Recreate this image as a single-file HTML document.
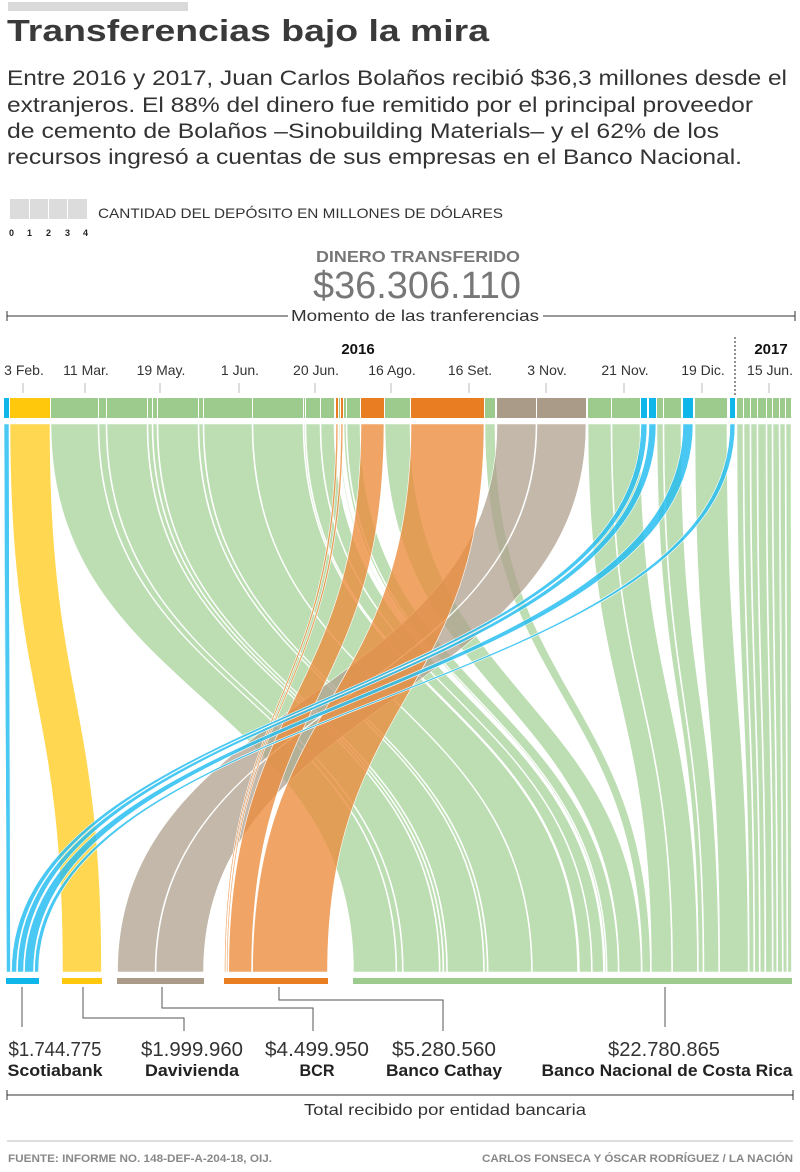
<!DOCTYPE html>
<html><head><meta charset="utf-8">
<style>
html,body{margin:0;padding:0;background:#fff;}
svg{display:block;font-family:"Liberation Sans",sans-serif;}
</style></head>
<body>
<svg id="s" width="800" height="1172" viewBox="0 0 800 1172" xmlns="http://www.w3.org/2000/svg">
<rect x="8" y="2" width="180" height="9" fill="#d9d9d9"/>
<text x="7" y="41" font-size="31" font-weight="bold" fill="#3a3a3a" textLength="482" lengthAdjust="spacingAndGlyphs">Transferencias bajo la mira</text>
<g font-size="21" fill="#333">
<text x="7" y="85" textLength="780" lengthAdjust="spacingAndGlyphs">Entre 2016 y 2017,  Juan Carlos Bolaños recibió $36,3 millones desde el</text>
<text x="7" y="112" textLength="746" lengthAdjust="spacingAndGlyphs">extranjeros. El 88% del dinero fue remitido por el principal proveedor</text>
<text x="7" y="138" textLength="712" lengthAdjust="spacingAndGlyphs">de cemento de Bolaños –Sinobuilding Materials– y el 62% de los</text>
<text x="7" y="164" textLength="735" lengthAdjust="spacingAndGlyphs">recursos ingresó a cuentas de sus empresas en el Banco Nacional.</text>
</g>
<g fill="#dcdcdc"><rect x="10" y="199" width="19" height="20"/><rect x="30" y="199" width="18" height="20"/><rect x="49" y="199" width="18" height="20"/><rect x="68" y="199" width="19" height="20"/></g>
<g font-size="9" font-weight="bold" fill="#222"><text x="9" y="236">0</text><text x="27" y="236">1</text><text x="46" y="236">2</text><text x="65" y="236">3</text><text x="83" y="236">4</text></g>
<text x="98" y="218" font-size="14" fill="#333" textLength="405" lengthAdjust="spacingAndGlyphs">CANTIDAD DEL DEPÓSITO EN MILLONES DE DÓLARES</text>
<text x="418" y="262" font-size="16" font-weight="bold" fill="#777" text-anchor="middle" textLength="204" lengthAdjust="spacingAndGlyphs">DINERO TRANSFERIDO</text>
<text x="417" y="298" font-size="38" fill="#777" text-anchor="middle" textLength="208" lengthAdjust="spacingAndGlyphs">$36.306.110</text>
<g stroke="#333" stroke-width="1"><line x1="7" y1="316" x2="288" y2="316"/><line x1="543" y1="316" x2="795" y2="316"/><line x1="7" y1="311" x2="7" y2="321"/><line x1="795" y1="311" x2="795" y2="321"/></g>
<text x="415" y="321" font-size="16" fill="#333" text-anchor="middle" textLength="248" lengthAdjust="spacingAndGlyphs">Momento de las tranferencias</text>
<text x="358" y="354" font-size="15" font-weight="bold" fill="#111" text-anchor="middle">2016</text>
<text x="771" y="354" font-size="15" font-weight="bold" fill="#111" text-anchor="middle">2017</text>
<line x1="735" y1="337" x2="735" y2="396" stroke="#222" stroke-dasharray="2,2"/>
<g id="dates" font-size="14" fill="#333" text-anchor="middle"></g>
<g id="flows"></g>
<g id="bars"></g>
<g stroke="#555" stroke-width="1" fill="none">
<path d="M22 987 V1027"/><path d="M83 987 V1018 H184 V1031"/><path d="M162 987 V1008 H313 V1031"/><path d="M279 987 V1000 H443 V1031"/><path d="M665 987 V1027"/>
</g>
<g font-size="20" fill="#333" text-anchor="middle">
<text x="55" y="1056" textLength="93" lengthAdjust="spacingAndGlyphs">$1.744.775</text>
<text x="192" y="1056" textLength="102" lengthAdjust="spacingAndGlyphs">$1.999.960</text>
<text x="317" y="1056" textLength="104" lengthAdjust="spacingAndGlyphs">$4.499.950</text>
<text x="444" y="1056" textLength="104" lengthAdjust="spacingAndGlyphs">$5.280.560</text>
<text x="664" y="1056" textLength="112" lengthAdjust="spacingAndGlyphs">$22.780.865</text>
</g>
<g font-size="17" font-weight="bold" fill="#222" text-anchor="middle">
<text x="55" y="1076" textLength="95" lengthAdjust="spacingAndGlyphs">Scotiabank</text>
<text x="192" y="1076" textLength="94" lengthAdjust="spacingAndGlyphs">Davivienda</text>
<text x="317" y="1076" textLength="35" lengthAdjust="spacingAndGlyphs">BCR</text>
<text x="444" y="1076" textLength="116" lengthAdjust="spacingAndGlyphs">Banco Cathay</text>
<text x="667" y="1076" textLength="251" lengthAdjust="spacingAndGlyphs">Banco Nacional de Costa Rica</text>
</g>
<g stroke="#333"><line x1="7" y1="1095" x2="793" y2="1095"/><line x1="7" y1="1090" x2="7" y2="1100"/><line x1="793" y1="1090" x2="793" y2="1100"/></g>
<text x="445" y="1115" font-size="16" fill="#333" text-anchor="middle" textLength="282" lengthAdjust="spacingAndGlyphs">Total recibido por entidad bancaria</text>
<line x1="7" y1="1141" x2="793" y2="1141" stroke="#ddd" stroke-width="2"/>
<text x="8" y="1162" font-size="11" font-weight="bold" fill="#888" textLength="264" lengthAdjust="spacingAndGlyphs">FUENTE: INFORME NO. 148-DEF-A-204-18, OIJ.</text>
<text x="793" y="1162" font-size="11" font-weight="bold" fill="#888" text-anchor="end" textLength="311" lengthAdjust="spacingAndGlyphs">CARLOS FONSECA Y ÓSCAR RODRÍGUEZ / LA NACIÓN</text>
</svg>
<script>
var NS="http://www.w3.org/2000/svg";
function el(p,t,a){var e=document.createElementNS(NS,t);for(var k in a)e.setAttribute(k,a[k]);p.appendChild(e);return e;}
var dates=[["3 Feb.",24],["11 Mar.",86],["19 May.",161],["1 Jun.",240],["20 Jun.",316],["16 Ago.",392],["16 Set.",470],["3 Nov.",547],["21 Nov.",625],["19 Dic.",703],["15 Jun.",770]];
var dg=document.getElementById("dates");
dates.forEach(function(d){var t=el(dg,"text",{x:d[1],y:375});t.textContent=d[0];el(dg,"line",{x1:d[1]-1,y1:383,x2:d[1]-1,y2:393,stroke:"#bbb"});});
// segments [x0,x1,bank]
var segs=[[4,9,"b"],[10,50,"y"],[51,98,"g"],[99,106,"g"],[107,147,"g"],[148,152,"g"],[153,157,"g"],[158,198,"g"],[199,203,"g"],[204,252,"g"],[253,303,"g"],[304,305,"g"],[306,320,"g"],[321,334,"g"],[336,338,"o"],[339,340,"g"],[341,343,"o"],[344,346,"g"],[347,360,"g"],[361,384,"o"],[385,410,"g"],[411,484,"o"],[485,495,"g"],[497,536,"t"],[537,586,"t"],[588,611,"g"],[612,640,"g"],[641,647,"b"],[649,656,"b"],[657,663,"g"],[664,681,"g"],[683,693,"b"],[695,727,"g"],[730,735,"b"],[737,743,"g"],[744,750,"g"],[751,757,"g"],[758,766,"g"],[767,772,"g"],[773,779,"g"],[780,785,"g"],[786,791,"g"]];
var banks={b:[6,39],y:[62,102],t:[117,204],o:[224,328],g:[353,792]};
var dark={b:"#0fb6ea",y:"#ffc80d",t:"#a99b87",o:"#e97d22",g:"#9dcb8e"};
var light={b:"rgba(40,190,240,0.85)",y:"rgba(255,208,50,0.85)",t:"rgba(175,160,140,0.75)",o:"rgba(236,140,60,0.78)",g:"rgba(160,208,145,0.7)"};
var fl=document.getElementById("flows"),br=document.getElementById("bars");
var tot={};segs.forEach(function(s){tot[s[2]]=(tot[s[2]]||0)+(s[1]-s[0]);});
var cur={};for(var k in banks)cur[k]=banks[k][0];
var y0=424,y1=972,ym=(y0+y1)/2;
var order=["g","t","o","y","b"];
var paths={g:[],t:[],o:[],y:[],b:[]};
segs.forEach(function(s){var k=s[2],w=s[1]-s[0],B=banks[k],bw=(B[1]-B[0])*w/tot[k];
var a=cur[k],b=a+bw;cur[k]=b;var gap=Math.min(0.5,bw*0.2);
var xa=s[0],xb=s[1],ba=a+gap,bb=b-gap;
paths[k].push("M"+xa+" "+y0+"C"+xa+" "+ym+" "+ba+" "+ym+" "+ba+" "+y1+"L"+bb+" "+y1+"C"+bb+" "+ym+" "+xb+" "+ym+" "+xb+" "+y0+"Z");
el(br,"rect",{x:s[0],y:398,width:w,height:20,fill:dark[k]});});
order.forEach(function(k){paths[k].forEach(function(d){el(fl,"path",{d:d,fill:light[k],stroke:"#fff","stroke-width":"0.6"});});});
for(var k in banks){el(br,"rect",{x:banks[k][0],y:978,width:banks[k][1]-banks[k][0],height:6,fill:dark[k]});}
</script>
</body></html>
